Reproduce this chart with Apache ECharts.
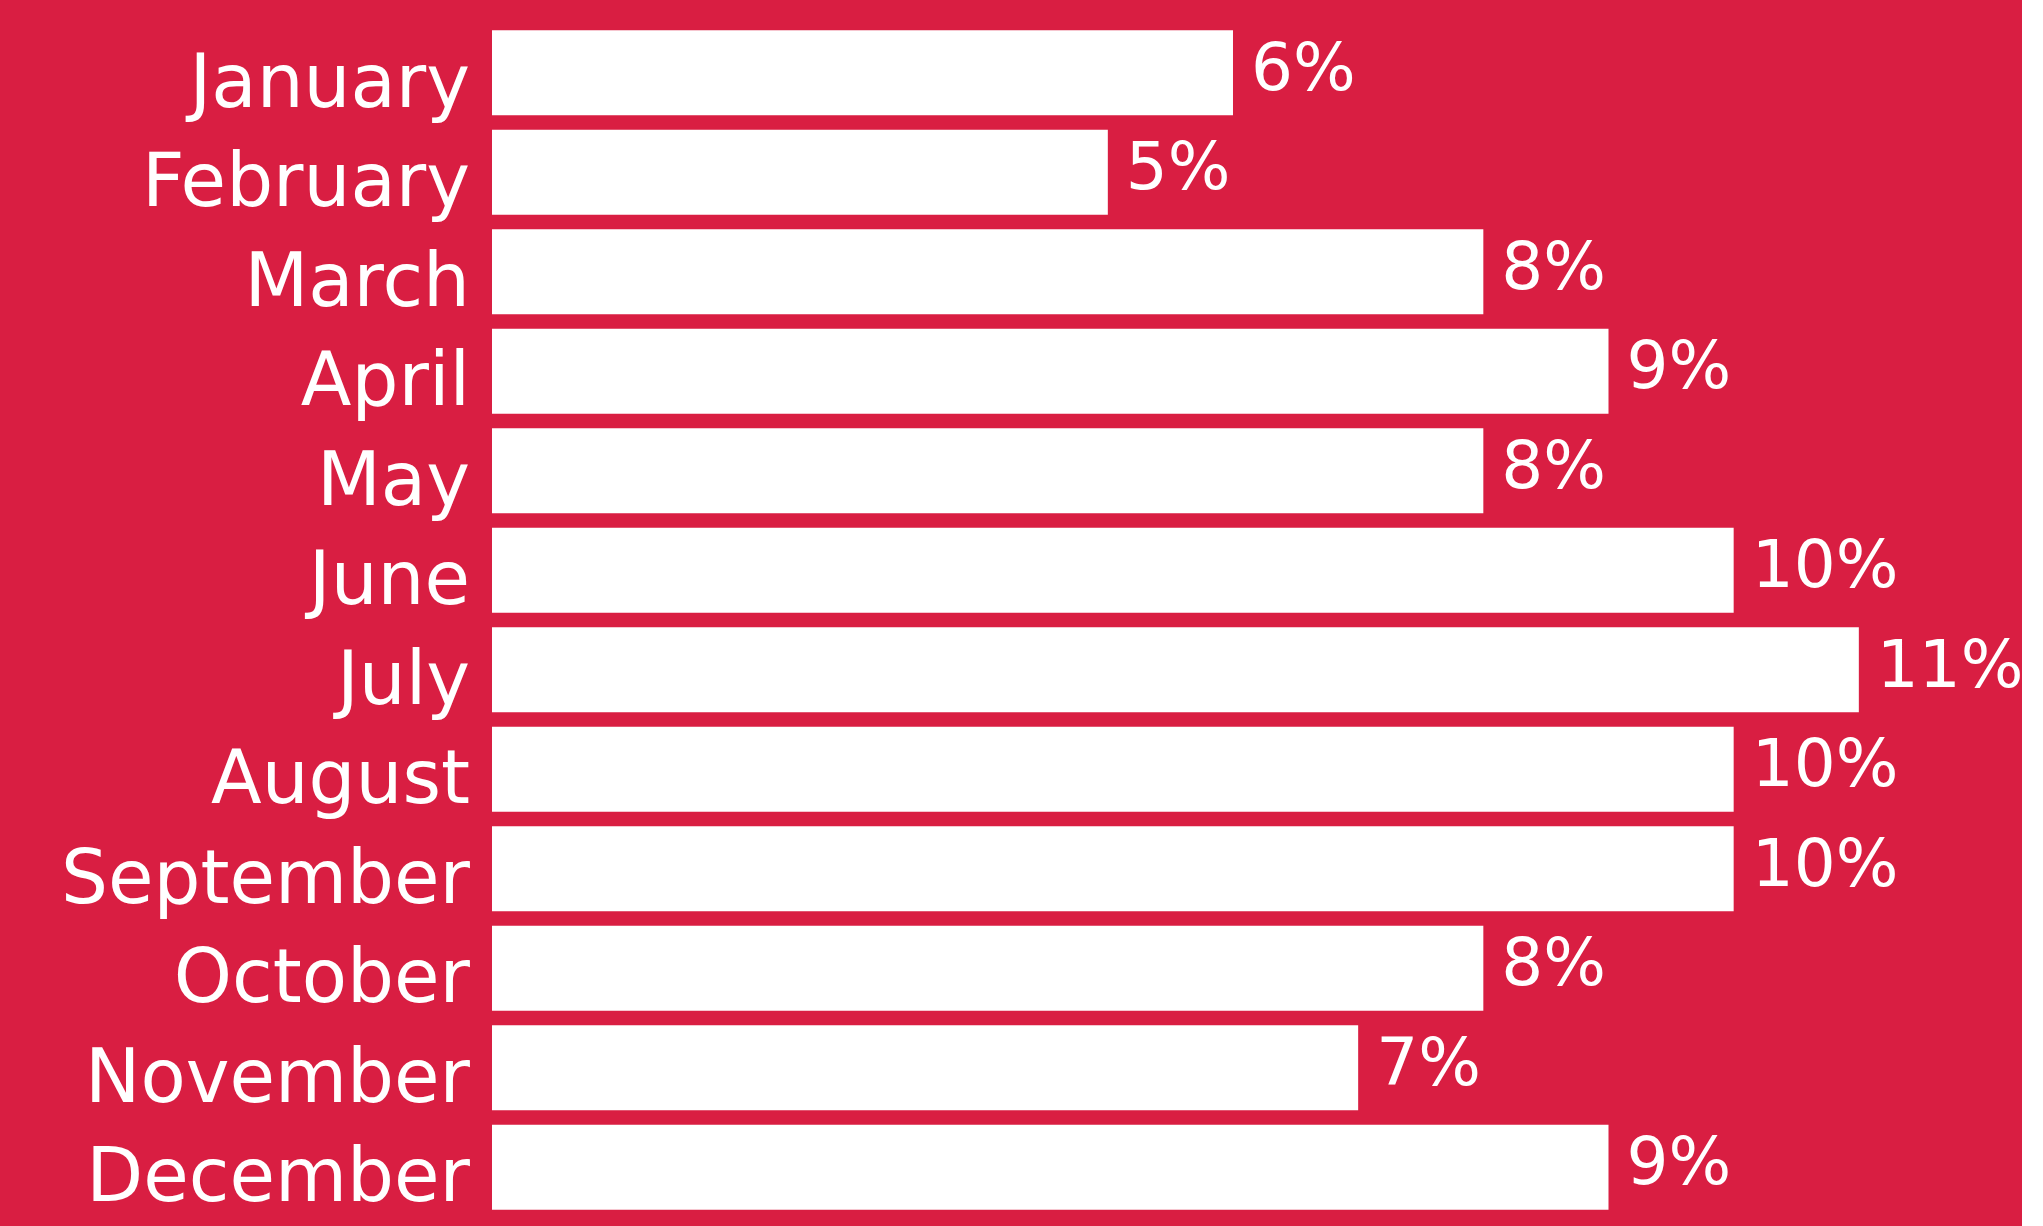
<!DOCTYPE html>
<html>
<head>
<meta charset="utf-8">
<script src="https://cdn.jsdelivr.net/npm/echarts@6/dist/echarts.min.js"></script>
<style>
html,body{margin:0;padding:0;background:#ffffff;}
#chart{width:2022px;height:1226px;}
</style>
</head>
<body>
<div id="chart"></div>
<script>
const months = ["January","February","March","April","May","June","July","August","September","October","November","December"];
const shares = [6, 5, 8, 9, 8, 10, 11, 10, 10, 8, 7, 9];

const chart = echarts.init(document.getElementById('chart'));
chart.setOption({
  backgroundColor: '#D91E42',
  animation: false,
  grid: { left: 492, right: 38, top: 23, bottom: 9, outerBoundsMode: 'none' },
  xAxis: { type: 'value', min: 0.08, max: 12, show: false },
  yAxis: {
    type: 'category',
    data: months,
    inverse: true,
    axisLine: { show: false },
    axisTick: { show: false },
    splitLine: { show: false },
    axisLabel: {
      margin: 22,
      formatter: '{m|{value}}',
      rich: {
        m: {
          color: '#ffffff',
          fontFamily: 'DejaVu Sans',
          fontSize: 74,
          padding: [30, 0, 0, 0]
        }
      }
    }
  },
  series: [{
    type: 'bar',
    data: shares,
    barWidth: 85,
    itemStyle: { color: '#ffffff' },
    label: {
      show: true,
      position: 'right',
      distance: 18,
      formatter: '{c}%',
      color: '#ffffff',
      fontFamily: 'DejaVu Sans',
      fontSize: 66
    }
  }]
});
</script>
</body>
</html>
